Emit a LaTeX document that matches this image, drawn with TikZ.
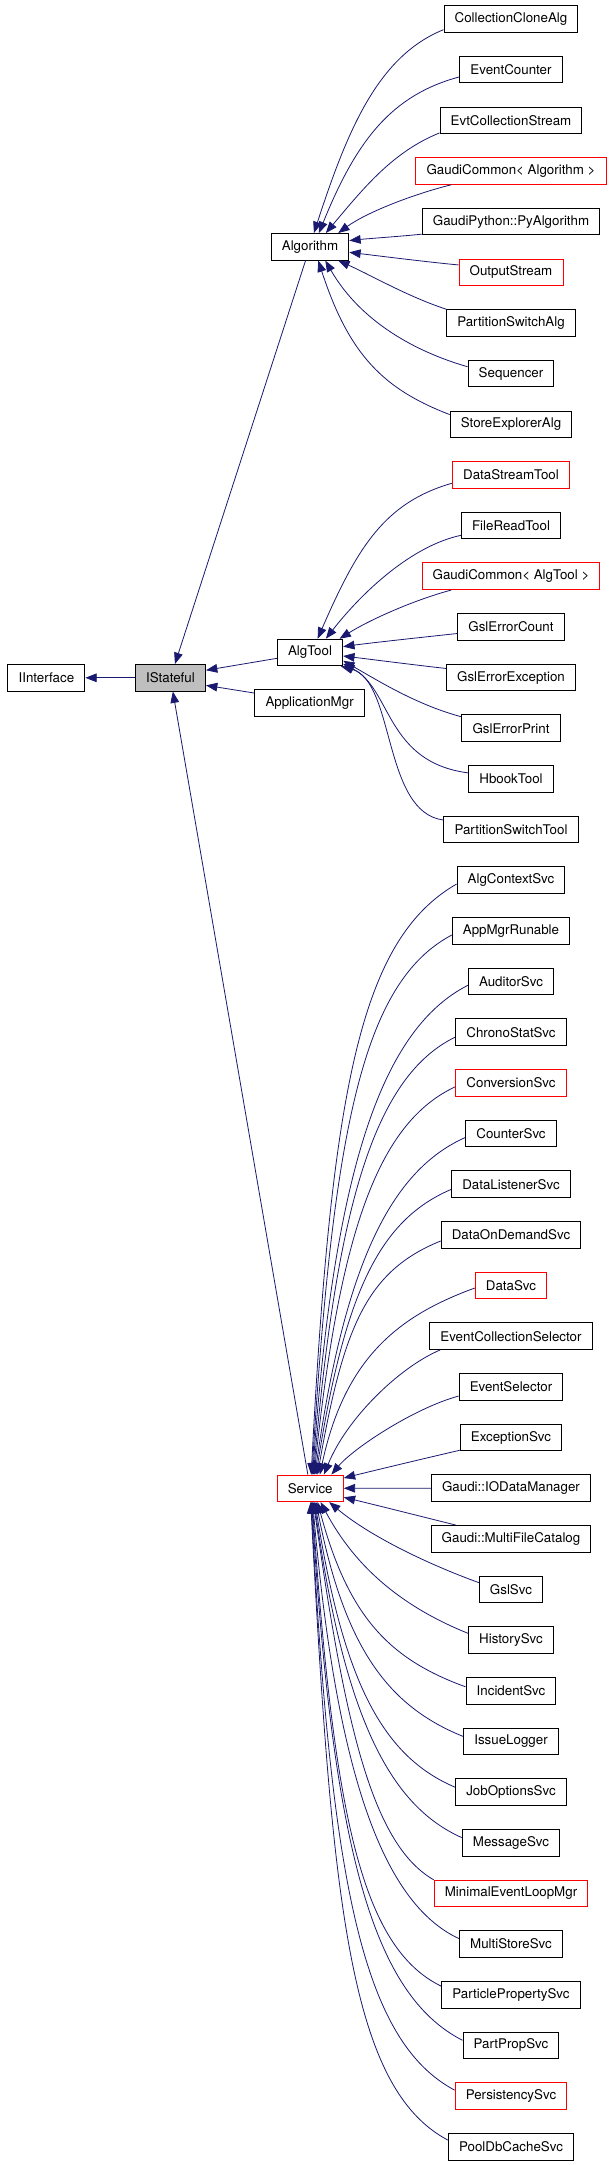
\documentclass[tikz,border=0pt]{standalone}
\usepackage{fontspec}
\setmainfont{TeX Gyre Heros}
\usetikzlibrary{arrows.meta}
\definecolor{edgeblue}{RGB}{25,25,112}
\definecolor{boxgray}{RGB}{191,191,191}
\begin{document}
\begin{tikzpicture}[x=0.75pt,y=0.75pt,
  clsbox/.style={draw=black,line width=0.75pt,fill=white,minimum height=19.9pt,inner xsep=8pt,inner ysep=2pt,font=\fontsize{10pt}{12pt}\selectfont},
  redcls/.style={clsbox,draw=red},
  graycls/.style={clsbox,fill=boxgray},
  conn/.style={draw=edgeblue,line width=0.6pt,-{Triangle[length=8.5pt,width=6.5pt]}}]
\path[use as bounding box,fill=white] (0,0) rectangle (610,-2165);

% right column
\node[clsbox] (cca) at (511,-19) {CollectionCloneAlg};
\node[clsbox] (evc) at (511,-69.66) {EventCounter};
\node[clsbox] (ecs) at (511,-120.32) {EvtCollectionStream};
\node[redcls] (gca) at (511,-170.98) {GaudiCommon< Algorithm >};
\node[clsbox] (gpy) at (511,-221.64) {GaudiPython::PyAlgorithm};
\node[redcls] (ost) at (511,-272.3) {OutputStream};
\node[clsbox] (psa) at (511,-322.96) {PartitionSwitchAlg};
\node[clsbox] (seq) at (511,-373.62) {Sequencer};
\node[clsbox] (sea) at (511,-424.28) {StoreExplorerAlg};
\node[redcls] (dst) at (511,-474.94) {DataStreamTool};
\node[clsbox] (frt) at (511,-525.6) {FileReadTool};
\node[redcls] (gct) at (511,-576.26) {GaudiCommon< AlgTool >};
\node[clsbox] (gec) at (511,-626.92) {GslErrorCount};
\node[clsbox] (gee) at (511,-677.58) {GslErrorException};
\node[clsbox] (gep) at (511,-728.24) {GslErrorPrint};
\node[clsbox] (hbt) at (511,-778.9) {HbookTool};
\node[clsbox] (pst) at (511,-829.56) {PartitionSwitchTool};
\node[clsbox] (acs) at (511,-880.22) {AlgContextSvc};
\node[clsbox] (amr) at (511,-930.88) {AppMgrRunable};
\node[clsbox] (aud) at (511,-981.54) {AuditorSvc};
\node[clsbox] (css) at (511,-1032.2) {ChronoStatSvc};
\node[redcls] (cnv) at (511,-1082.86) {ConversionSvc};
\node[clsbox] (cnt) at (511,-1133.52) {CounterSvc};
\node[clsbox] (dls) at (511,-1184.18) {DataListenerSvc};
\node[clsbox] (dod) at (511,-1234.84) {DataOnDemandSvc};
\node[redcls] (dsv) at (511,-1285.5) {DataSvc};
\node[clsbox] (ecsel) at (511,-1336.16) {EventCollectionSelector};
\node[clsbox] (evsel) at (511,-1386.82) {EventSelector};
\node[clsbox] (exc) at (511,-1437.48) {ExceptionSvc};
\node[clsbox] (iodm) at (511,-1488.14) {Gaudi::IODataManager};
\node[clsbox] (mfc) at (511,-1538.8) {Gaudi::MultiFileCatalog};
\node[clsbox] (gsl) at (511,-1589.46) {GslSvc};
\node[clsbox] (his) at (511,-1640.12) {HistorySvc};
\node[clsbox] (inc) at (511,-1690.78) {IncidentSvc};
\node[clsbox] (isl) at (511,-1741.44) {IssueLogger};
\node[clsbox] (jos) at (511,-1792.1) {JobOptionsSvc};
\node[clsbox] (msg) at (511,-1842.76) {MessageSvc};
\node[redcls] (mel) at (511,-1893.42) {MinimalEventLoopMgr};
\node[clsbox] (mss) at (511,-1944.08) {MultiStoreSvc};
\node[clsbox] (pps) at (511,-1994.74) {ParticlePropertySvc};
\node[clsbox] (ppv) at (511,-2045.4) {PartPropSvc};
\node[redcls] (per) at (511,-2096.06) {PersistencySvc};
\node[clsbox] (pdb) at (511,-2146.72) {PoolDbCacheSvc};

% middle and left
\node[clsbox] (alg) at (310,-246.8) {Algorithm};
\node[clsbox] (algtool) at (310,-652.5) {AlgTool};
\node[clsbox] (appmgr) at (309.6,-702.8) {ApplicationMgr};
\node[redcls] (service) at (310.2,-1488.3) {Service};
\node[graycls] (istateful) at (170.5,-677.8) {IStateful};
\node[clsbox] (iinterface) at (46.4,-677.8) {IInterface};

% main edges
\draw[conn] (istateful) -- (iinterface);
\draw[conn] (alg) -- (istateful);
\draw[conn] (service) -- (istateful);
\draw[conn] (algtool.190) -- (istateful.12);
\draw[conn] (appmgr.170) -- (istateful.348);

% Algorithm children
\draw[conn] (cca.189) .. controls +(202:70) and +(72:110) .. (alg.74);
\draw[conn] (evc.188) .. controls +(195:70) and +(68:100) .. (alg.57);
\draw[conn] (ecs.190) .. controls +(202:50) and +(50:60) .. (alg.41);
\draw[conn] (gca.193) .. controls +(194:40) and +(36:35) .. (alg.26);
\draw[conn] (gpy.188) .. controls +(186:20) and +(6:20) .. (alg.9);
\draw[conn] (ost.172) .. controls +(175:25) and +(-7:25) .. (alg.352);
\draw[conn] (psa.168) .. controls +(162:40) and +(-24:35) .. (alg.334);
\draw[conn] (seq.171) .. controls +(164:55) and +(-60:70) .. (alg.318);
\draw[conn] (sea.171) .. controls +(159:70) and +(-72:100) .. (alg.301);

% AlgTool children
\draw[conn] (dst.188) .. controls +(196:70) and +(66.5:100) .. (algtool.61);
\draw[conn] (frt.191) .. controls +(192:50) and +(52:60) .. (algtool.41);
\draw[conn] (gct.193) .. controls +(195:40) and +(32:35) .. (algtool.25);
\draw[conn] (gec.187) .. controls +(186:20) and +(8:25) .. (algtool.10);
\draw[conn] (gee.172) .. controls +(174:20) and +(-7:25) .. (algtool.354);
\draw[conn] (gep.167) .. controls +(165:46.6) and +(-29.7:40.3) .. (algtool.346);
\draw[conn] (hbt.172) .. controls +(172.6:83.4) and +(-27:54.4) .. (algtool.341);
\draw[conn] (pst.172) .. controls +(172.5:61.5) and +(-15.1:56.3) .. (algtool.336);

% Service children above
\draw[conn] (exc.194) .. controls +(193:30) and +(14:30) .. (service.17);
\draw[conn] (evsel.190) .. controls +(195:45) and +(50:35) .. (service.33);
\draw[conn] (ecsel.191) .. controls +(203:45) and +(68:60) .. (service.45);
\draw[conn] (dsv.184) .. controls +(200:80) and +(78:120) .. (service.55);
\draw[conn] (dod.185) .. controls +(202:80) and +(80:150) .. (service.62);
\draw[conn] (dls.185) .. controls +(203:80) and +(81:180) .. (service.67);
\draw[conn] (cnt.185) .. controls +(204:80) and +(82:215) .. (service.71);
\draw[conn] (cnv.184) .. controls +(205:85) and +(84:245) .. (service.74);
\draw[conn] (css.185) .. controls +(206:90) and +(85:270) .. (service.77);
\draw[conn] (aud.185) .. controls +(207:95) and +(86:310) .. (service.80);
\draw[conn] (amr.184) .. controls +(208:100) and +(86.5:350) .. (service.83);
\draw[conn] (acs.184) .. controls +(210:110) and +(87:390) .. (service.86);

% same row
\draw[conn] (iodm) -- (service);

% Service children below
\draw[conn] (mfc.166) .. controls +(166:35) and +(-13.5:30) .. (service.345);
\draw[conn] (gsl.168) .. controls +(160:60) and +(-40:50) .. (service.324);
\draw[conn] (his.171) .. controls +(158:70) and +(-62:75) .. (service.307);
\draw[conn] (inc.175) .. controls +(160:80) and +(-75:120) .. (service.298);
\draw[conn] (isl.174) .. controls +(158:80) and +(-79:150) .. (service.293);
\draw[conn] (jos.175) .. controls +(157:80) and +(-81:180) .. (service.289);
\draw[conn] (msg.174) .. controls +(156:80) and +(-82:215) .. (service.286);
\draw[conn] (mel.170) .. controls +(150:70) and +(-82:230) .. (service.283);
\draw[conn] (mss.174) .. controls +(155:85) and +(-85:270) .. (service.280);
\draw[conn] (pps.173) .. controls +(154:90) and +(-86:310) .. (service.278);
\draw[conn] (ppv.174) .. controls +(153:100) and +(-86.5:350) .. (service.276);
\draw[conn] (per.174) .. controls +(152:105) and +(-87:380) .. (service.274);
\draw[conn] (pdb.174) .. controls +(152:110) and +(-87:408) .. (service.272);
\end{tikzpicture}
\end{document}
